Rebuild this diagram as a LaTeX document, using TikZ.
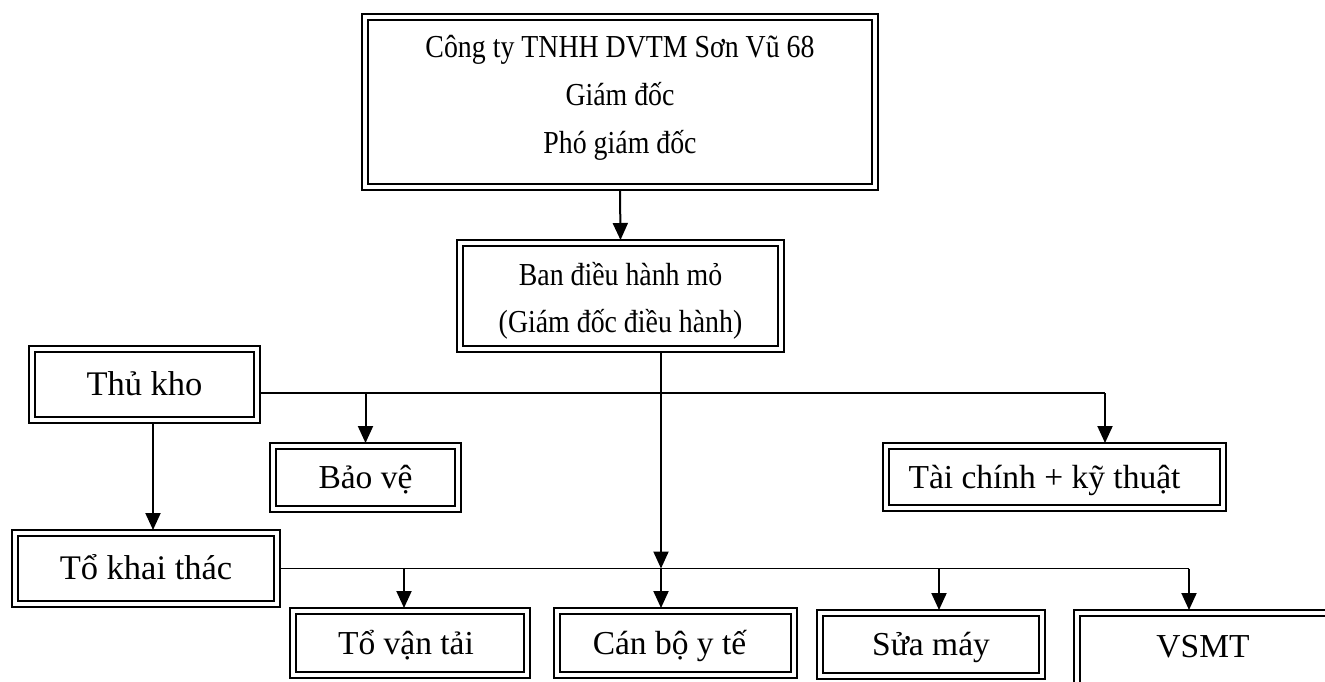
\documentclass[tikz,border=0pt]{standalone}
\usepackage{fontspec}
\setmainfont{Liberation Serif}
\newfontfamily\condfont[FakeStretch=0.87]{Liberation Serif}
\usetikzlibrary{arrows.meta,calc}
\begin{document}
\begin{tikzpicture}[x=1pt,y=-1pt,
  dbox/.style={draw, line width=1.9pt, inner sep=0pt, outer sep=0pt, align=center,
    path picture={\draw[line width=2.7pt] ([xshift=6pt,yshift=-6pt]path picture bounding box.north west) rectangle ([xshift=-6pt,yshift=6pt]path picture bounding box.south east);}},
  toptxt/.style={font=\condfont\fontsize{32}{48}\selectfont},
  bantxt/.style={font=\condfont\fontsize{32}{47}\selectfont},
  lowtxt/.style={font=\fontsize{33.5}{40}\selectfont, text height=22pt, text depth=0pt},
  link/.style={line width=1.3pt},
  arr/.style={line width=2pt, -{Triangle[width=15pt,length=17pt]}},
]
\useasboundingbox (0,0) rectangle (1325,682);

\node[dbox,toptxt,minimum width=516pt,minimum height=176pt] (top) at (620,102) {Công ty TNHH DVTM Sơn Vũ 68\\Giám đốc\\Phó giám đốc\rule[-15pt]{0pt}{15pt}};
\node[dbox,bantxt,minimum width=327pt,minimum height=112pt] (ban) at (620.5,296) {\rule{0pt}{33pt}Ban điều hành mỏ\\(Giám đốc điều hành)};
\node[dbox,lowtxt,font=\fontsize{34.5}{40}\selectfont,minimum width=231pt,minimum height=77pt] (thukho) at (144.5,384.5) {Thủ kho};
\node[dbox,lowtxt,minimum width=191pt,minimum height=69pt] (baove) at (365.5,477.5) {Bảo vệ};
\node[dbox,lowtxt,minimum width=343pt,minimum height=68pt] (taichinh) at (1054.5,477) {\hspace*{-20pt}Tài chính + kỹ thuật};
\node[dbox,lowtxt,font=\fontsize{34.5}{40}\selectfont,minimum width=268pt,minimum height=77pt] (tokhai) at (146,568.5) {Tổ khai thác};
\node[dbox,lowtxt,minimum width=240pt,minimum height=70pt] (tovantai) at (410,643) {\hspace*{-8pt}Tổ vận tải};
\node[dbox,lowtxt,minimum width=243pt,minimum height=70pt] (canbo) at (675.5,643) {\hspace*{-12pt}Cán bộ y tế};
\node[dbox,lowtxt,minimum width=228pt,minimum height=69pt] (suamay) at (931,644.5) {Sửa máy};
\node[dbox,lowtxt,text depth=8pt,minimum width=266pt,minimum height=80pt] (vsmt) at (1207,650) {\hspace*{-8pt}VSMT};

\coordinate (j1) at (1105,393);
\coordinate (j2) at ([xshift=40.5pt]ban.south |- tokhai.east);
\coordinate (j3) at (1189,568.5);
\coordinate (tv) at ([xshift=-6pt]tovantai.north);
\coordinate (cb) at ([xshift=-14.5pt]canbo.north);
\coordinate (sm) at ([xshift=8pt]suamay.north);
\coordinate (vs) at ([xshift=-18pt]vsmt.north);
\coordinate (tk) at ([xshift=8.5pt]thukho.south);

\draw[arr] (top.south) -- (ban.north);
\draw[link] ([yshift=-8.5pt]thukho.east) -- (j1);
\draw[arr] (baove.north |- j1) -- (baove.north);
\draw[arr] (j1) -- (j1 |- taichinh.north);
\draw[arr] (tk) -- (tk |- tokhai.north);
\draw[arr] ([xshift=40.5pt]ban.south) -- (j2);
\draw[link] (tokhai.east) -- (j3);
\draw[arr] (tv |- j3) -- (tv);
\draw[arr] (j2) -- (cb);
\draw[arr] (sm |- j3) -- (sm);
\draw[arr] (j3) -- (vs);
\end{tikzpicture}
\end{document}
